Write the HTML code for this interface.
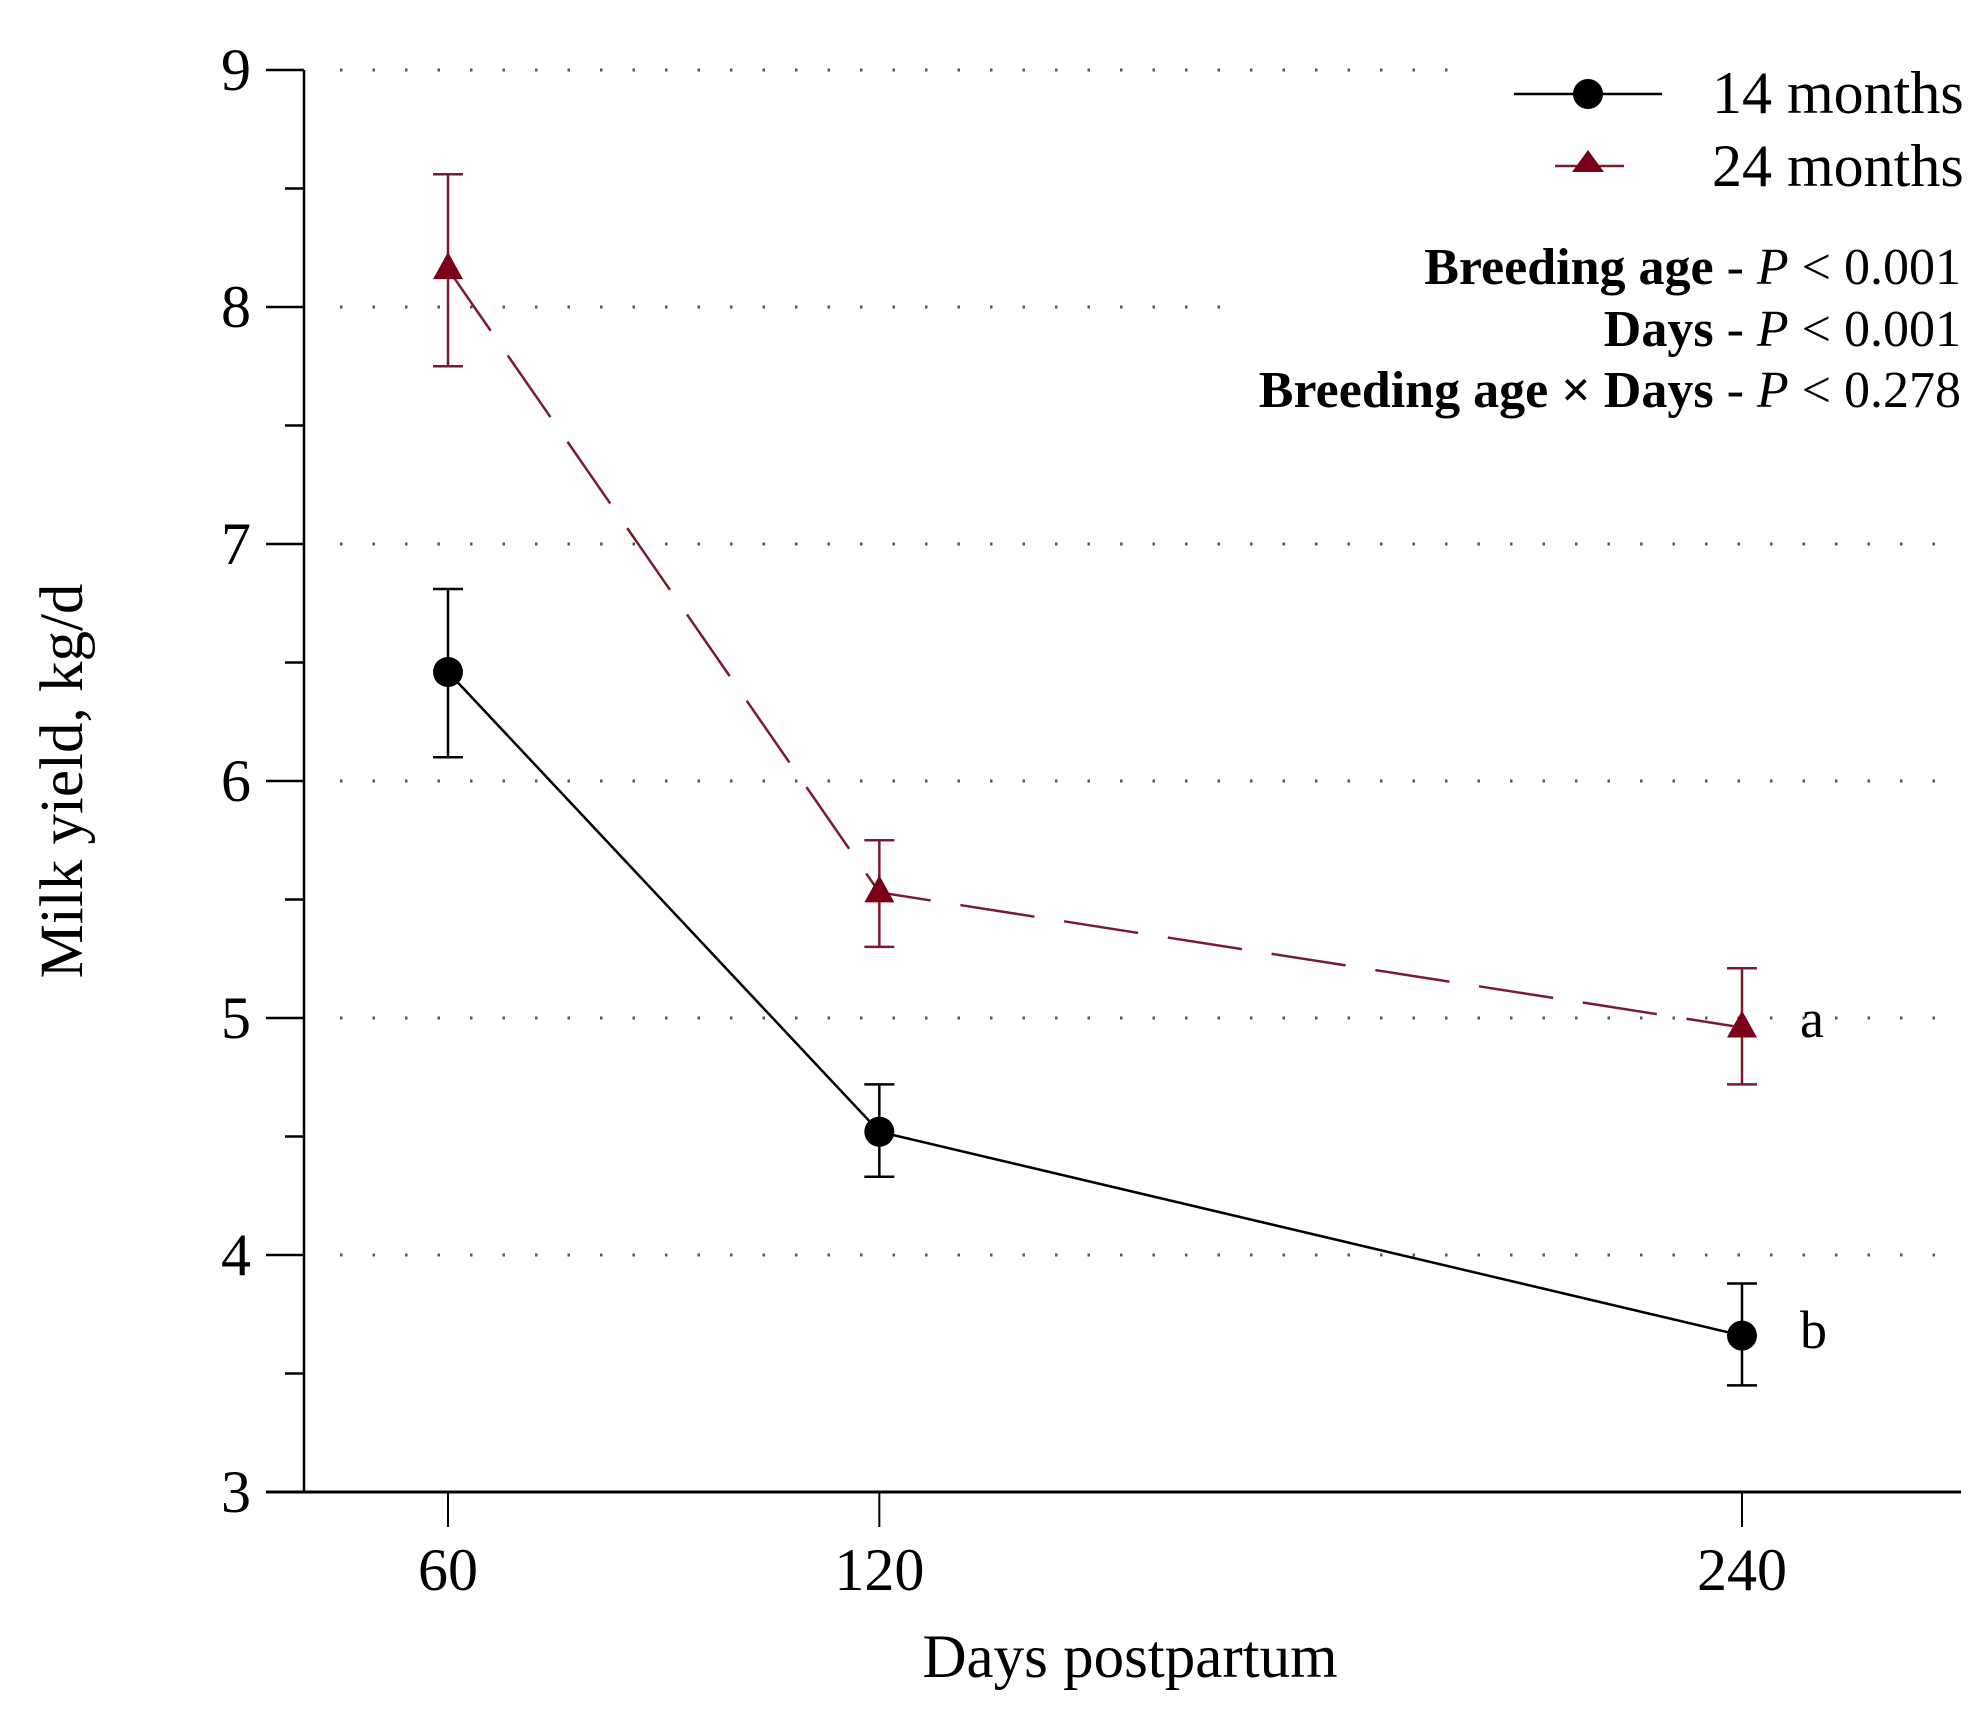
<!DOCTYPE html>
<html><head><meta charset="utf-8">
<style>
html,body{margin:0;padding:0;background:#fff;}
svg{display:block;font-family:"Liberation Serif",serif;}
</style></head>
<body>
<svg id="chart" width="1986" height="1724" viewBox="0 0 1986 1724" xmlns="http://www.w3.org/2000/svg">
<g id="grid"></g>
<g id="axes"></g>
<g id="series"></g>
<text transform="translate(82,781) rotate(-90)" text-anchor="middle" font-size="61">Milk yield, kg/d</text>
<text x="1130" y="1677" text-anchor="middle" font-size="61">Days postpartum</text>
<g>
  <g>
    <line x1="1514" y1="94" x2="1662" y2="94" stroke="#000" stroke-width="2.5"/>
    <circle cx="1588" cy="94" r="15" fill="#000"/>
    <text x="1712" y="113" font-size="60">14 months</text>
  </g>
  <g>
    <line x1="1555" y1="166" x2="1624" y2="166" stroke="#7a1b2e" stroke-width="2.5"/>
    <polygon points="1588,150 1604,172 1572,172" fill="#7a0018"/>
    <text x="1712" y="186" font-size="60">24 months</text>
  </g>
</g>
<g font-size="52" text-anchor="end">
  <text x="1961" y="284"><tspan font-weight="bold">Breeding age</tspan> - <tspan font-style="italic">P</tspan> &lt; 0.001</text>
  <text x="1961" y="346"><tspan font-weight="bold">Days</tspan> - <tspan font-style="italic">P</tspan> &lt; 0.001</text>
  <text x="1961" y="407"><tspan font-weight="bold">Breeding age × Days</tspan> - <tspan font-style="italic">P</tspan> &lt; 0.278</text>
</g>
<text x="1800" y="1037" font-size="54">a</text>
<text x="1800" y="1348" font-size="54">b</text>
</svg>
<script>
const days = [60, 120, 240];
const xTicks = [60, 120, 240];
const yTicks = [3, 4, 5, 6, 7, 8, 9];
const mean14 = [6.46, 4.52, 3.66];
const upper14 = [6.81, 4.72, 3.88];
const lower14 = [6.10, 4.33, 3.45];
const mean24 = [8.16, 5.53, 4.96];
const upper24 = [8.56, 5.75, 5.21];
const lower24 = [7.75, 5.30, 4.72];

const NS = "http://www.w3.org/2000/svg";
const X0 = 304, Y0 = 1492, YT = 70;
function xs(d){ return 448 + (d - 60) * (1742 - 448) / 180; }
function ys(v){ return Y0 - (v - 3) * (Y0 - YT) / 6; }
function mk(tag, attrs, parent){
  const e = document.createElementNS(NS, tag);
  for (const k in attrs) e.setAttribute(k, attrs[k]);
  parent.appendChild(e); return e;
}
const grid = document.getElementById('grid');
const axes = document.getElementById('axes');
const series = document.getElementById('series');
const gridEnds = {9:1470, 8:1222};
yTicks.forEach(v => {
  if (v === 3) return;
  const l = mk('line', {x1:340, y1:ys(v), x2:gridEnds[v] || 1961, y2:ys(v), stroke:'#555', 'stroke-width':3, 'stroke-dasharray':'2.5 30'}, grid);
  
  
});
let ya = mk('line', {x1:X0, y1:YT, x2:X0, y2:Y0, stroke:'#000', 'stroke-width':2.5}, axes);


let xa = mk('line', {x1:266, y1:Y0, x2:1961, y2:Y0, stroke:'#000', 'stroke-width':3}, axes);


for (let v = 3; v <= 9; v += 0.5) {
  const major = Number.isInteger(v);
  const t = mk('line', {x1: major ? 266 : 285, y1: ys(v), x2: X0, y2: ys(v), stroke:'#000', 'stroke-width':2.5}, axes);
  
  
}
yTicks.forEach(v => {
  const t = mk('text', {x:251, y:ys(v) + 20, 'text-anchor':'end', 'font-size':60}, axes);
  t.textContent = v;
  
  
});
xTicks.forEach(d => {
  const t = mk('line', {x1:xs(d), y1:Y0, x2:xs(d), y2:1527, stroke:'#000', 'stroke-width':2}, axes);
  
  
  const lb = mk('text', {x:xs(d), y:1590, 'text-anchor':'middle', 'font-size':60}, axes);
  lb.textContent = d;
  
  
});
function drawSeries(mean, up, lo, color, dash, marker, name){
  const g = mk('g', {}, series);
  
  
  const pts = days.map((d,i) => xs(d) + ',' + ys(mean[i])).join(' ');
  const pl = mk('polyline', {points:pts, fill:'none', stroke:color, 'stroke-width':2.5, 'stroke-dasharray':dash}, g);
  
  
  days.forEach((d,i) => {
    const x = xs(d);
    const eb = mk('path', {d:`M${x-15},${ys(up[i])}H${x+15}M${x},${ys(up[i])}V${ys(lo[i])}M${x-15},${ys(lo[i])}H${x+15}`, stroke:color, 'stroke-width':2.5, fill:'none'}, g);
    
    
    let m;
    const y = ys(mean[i]);
    if (marker === 'circle') m = mk('circle', {cx:x, cy:y, r:15, fill:'#000'}, g);
    else m = mk('polygon', {points:`${x},${y-17} ${x+15},${y+10} ${x-15},${y+10}`, fill:'#7a0018'}, g);
    
    
  });
}
drawSeries(mean24, upper24, lower24, '#7a1b2e', '75 30', 'triangle', '24-months');
drawSeries(mean14, upper14, lower14, '#000', 'none', 'circle', '14-months');
</script>
</body></html>
